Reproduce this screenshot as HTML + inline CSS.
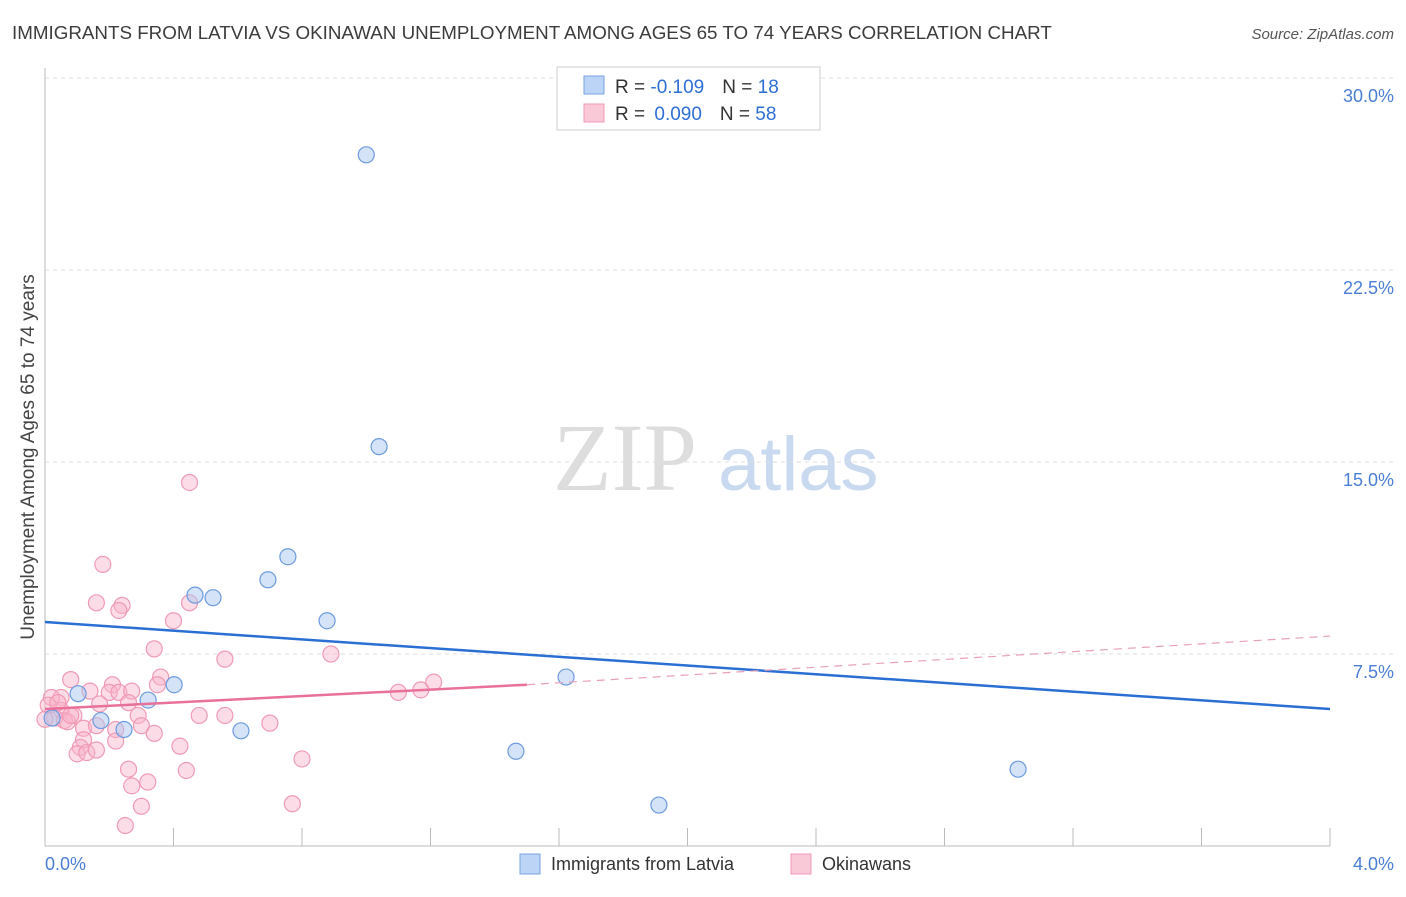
<!DOCTYPE html>
<html><head><meta charset="utf-8"><style>
body{margin:0;background:#fff;font-family:"Liberation Sans",sans-serif;}
</style></head><body>
<svg width="1406" height="892" xmlns="http://www.w3.org/2000/svg" font-family="Liberation Sans, sans-serif">
<text x="12" y="39" font-size="18.8" fill="#3c3c3c">IMMIGRANTS FROM LATVIA VS OKINAWAN UNEMPLOYMENT AMONG AGES 65 TO 74 YEARS CORRELATION CHART</text>
<text x="1394" y="39" font-size="15" fill="#555" font-style="italic" text-anchor="end">Source: ZipAtlas.com</text>
<text x="553" y="490" font-size="96" fill="#ddd" font-family="Liberation Serif, serif">ZIP</text>
<text x="718" y="490" font-size="76" fill="#c9d9f0">atlas</text>
<g id="grid"></g>
<line x1="45" y1="846" x2="1330" y2="846" stroke="#bbb"/>
<line x1="45" y1="68" x2="45" y2="846" stroke="#bbb"/>
<text transform="translate(34,457) rotate(-90)" font-size="19" fill="#444" text-anchor="middle">Unemployment Among Ages 65 to 74 years</text>
<text x="45" y="870" font-size="18" fill="#4a7fd6">0.0%</text>
<text x="1394" y="870" font-size="18" fill="#4a7fd6" text-anchor="end">4.0%</text>
<g id="marks"></g>
<g>
<rect x="557" y="67" width="263" height="63" fill="#fff" stroke="#ccc"/>
<rect x="584" y="76" width="20" height="18" fill="#bcd4f5" stroke="#7aa3e0"/>
<rect x="584" y="104" width="20" height="18" fill="#fac9d8" stroke="#f09ab5"/>
<text x="615" y="93" font-size="19" fill="#333">R = <tspan fill="#2e6fd6">-0.109</tspan><tspan dx="18">N = </tspan><tspan fill="#2e6fd6">18</tspan></text>
<text x="615" y="120" font-size="19" fill="#333">R = <tspan fill="#2e6fd6" dx="4">0.090</tspan><tspan dx="18">N = </tspan><tspan fill="#2e6fd6">58</tspan></text>
</g>
<g>
<rect x="520" y="854" width="20" height="20" fill="#bcd4f5" stroke="#7aa3e0"/>
<text x="551" y="870" font-size="18" fill="#333">Immigrants from Latvia</text>
<rect x="791" y="854" width="20" height="20" fill="#fac9d8" stroke="#f09ab5"/>
<text x="822" y="870" font-size="18" fill="#333">Okinawans</text>
</g>
</svg>
<script>
const yTicks=[7.5,15,22.5,30];
const yTickLabels=["7.5%","15.0%","22.5%","30.0%"];
const xTicks=[0,0.4,0.8,1.2,1.6,2.0,2.4,2.8,3.2,3.6,4.0];
const latviaX=[1.0,1.04,0.756,0.694,0.467,0.523,0.878,1.622,0.402,0.321,0.103,0.174,0.246,0.61,1.466,3.029,1.911,0.022];
const latviaY=[27.0,15.6,11.3,10.4,9.8,9.7,8.8,6.6,6.3,5.7,5.95,4.9,4.55,4.5,3.7,3.0,1.6,5.0];
const okiX=[0.45,0.18,0.16,0.24,0.23,0.45,0.4,0.34,0.56,0.89,0.08,0.36,0.35,0.21,0.2,0.23,0.27,0.14,0.05,0.02,0.17,0.26,0.05,0.09,0.03,0.06,0.07,0.29,0.48,0.56,0.7,0.3,0.22,0.12,0.16,0.12,0.34,0.22,0.11,0.1,0.13,0.16,0.42,0.8,0.26,0.44,0.27,0.32,0.3,0.77,0.25,1.1,1.17,1.21,0.01,0.04,0.08,0.0];
const okiY=[14.2,11.0,9.5,9.4,9.2,9.5,8.8,7.7,7.3,7.5,6.5,6.6,6.3,6.3,6.0,6.0,6.05,6.05,5.8,5.8,5.55,5.6,5.3,5.1,5.0,4.9,4.85,5.1,5.1,5.1,4.8,4.7,4.55,4.6,4.7,4.15,4.4,4.1,3.85,3.6,3.65,3.75,3.9,3.4,3.0,2.95,2.35,2.5,1.55,1.65,0.8,6.0,6.1,6.4,5.5,5.6,5.1,4.95];
const latviaTrend=[8.75,5.35];
const okiTrend=[5.35,6.3,8.2];
const X=v=>45+v/4*1285, Y=v=>846-v*25.6;
const NS="http://www.w3.org/2000/svg";
const grid=document.getElementById('grid'), marks=document.getElementById('marks');
function mk(tag,at,parent){const e=document.createElementNS(NS,tag);for(const k in at)e.setAttribute(k,at[k]);parent.appendChild(e);return e;}
yTicks.forEach((t,i)=>{
 const l=mk('line',{x1:45,x2:1394,y1:Y(t),y2:Y(t),stroke:'#ddd','stroke-dasharray':'4,4'},grid);
 
 
 const tx=mk('text',{x:1394,y:Y(t)+24,'font-size':18,fill:'#4a7fd6','text-anchor':'end'},grid);
 tx.textContent=yTickLabels[i];
 
 
});
xTicks.forEach(t=>{
 const l=mk('line',{x1:X(t),x2:X(t),y1:828,y2:846,stroke:'#bbb'},grid);
 
 
});
okiX.forEach((v,i)=>{
 const c=mk('circle',{cx:X(v),cy:Y(okiY[i]),r:8,fill:'rgba(248,180,202,0.45)',stroke:'#f09ab5','stroke-width':1.2},marks);
 
 
});
latviaX.forEach((v,i)=>{
 const c=mk('circle',{cx:X(v),cy:Y(latviaY[i]),r:8,fill:'rgba(170,200,240,0.5)',stroke:'#6d9be0','stroke-width':1.2},marks);
 
 
});
let t1=mk('line',{x1:X(0),y1:Y(latviaTrend[0]),x2:X(4),y2:Y(latviaTrend[1]),stroke:'#2a6fd4','stroke-width':2.5},marks);


let t2=mk('line',{x1:X(0),y1:Y(okiTrend[0]),x2:X(1.5),y2:Y(okiTrend[1]),stroke:'#e8709a','stroke-width':2.5},marks);


let t3=mk('line',{x1:X(1.5),y1:Y(okiTrend[1]),x2:X(4),y2:Y(okiTrend[2]),stroke:'#e8a0b8','stroke-width':1.2,'stroke-dasharray':'8,6'},marks);


</script>
</body></html>
